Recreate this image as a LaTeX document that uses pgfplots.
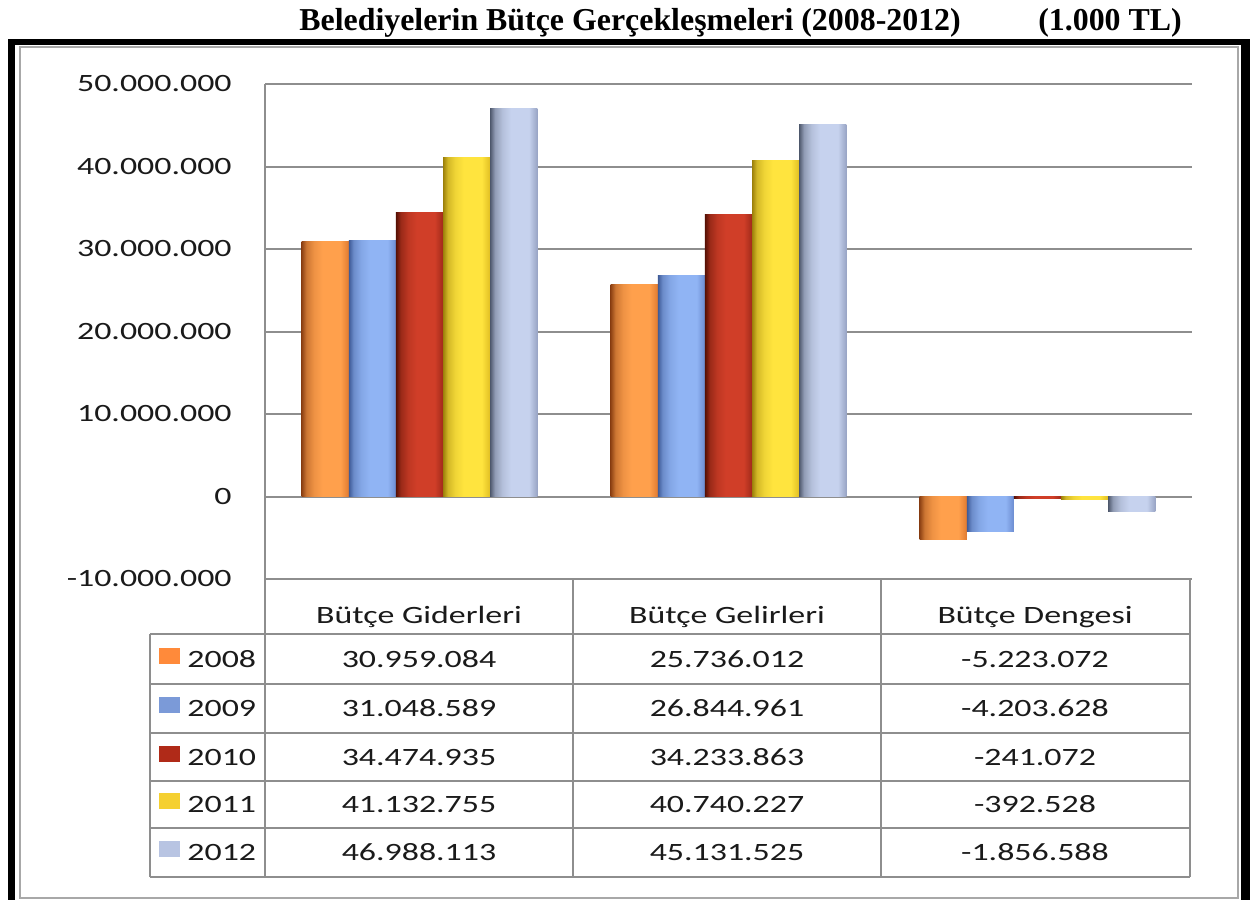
\documentclass[border=0pt]{standalone}
\usepackage{pgfplots}
\pgfplotsset{compat=1.18}
\usepackage{fontspec}
\setmainfont{Liberation Serif}
\newfontfamily\calfont[FakeStretch=1.36]{Carlito}
\definecolor{gridc}{HTML}{8E8E8E}
\definecolor{framec}{HTML}{A8A8A8}
\definecolor{labc}{HTML}{1A1A1A}
% bar shading colours
\definecolor{aL}{HTML}{8E4214}\definecolor{aM}{HTML}{FFA04C}\definecolor{aR}{HTML}{E07A30}
\definecolor{bL}{HTML}{3E5A96}\definecolor{bM}{HTML}{90B4F4}\definecolor{bR}{HTML}{6C8CD0}
\definecolor{cL}{HTML}{561004}\definecolor{cM}{HTML}{D03E28}\definecolor{cR}{HTML}{A02A1A}
\definecolor{dL}{HTML}{9C800A}\definecolor{dM}{HTML}{FFE43E}\definecolor{dR}{HTML}{E0BE22}
\definecolor{eL}{HTML}{505A6E}\definecolor{eM}{HTML}{C6D2EE}\definecolor{eR}{HTML}{98A4C4}
\colorlet{aA}{aL!45!aM}\colorlet{aB}{aL!15!aM}
\colorlet{bA}{bL!45!bM}\colorlet{bB}{bL!15!bM}
\colorlet{cA}{cL!45!cM}\colorlet{cB}{cL!15!cM}
\colorlet{dA}{dL!45!dM}\colorlet{dB}{dL!15!dM}
\colorlet{eA}{eL!45!eM}\colorlet{eB}{eL!15!eM}
\pgfdeclarehorizontalshading{sh08}{100bp}{color(0bp)=(aL); color(25bp)=(aL); color(30bp)=(aA); color(38bp)=(aB); color(47bp)=(aM); color(66bp)=(aM); color(75bp)=(aR); color(100bp)=(aR)}
\pgfdeclarehorizontalshading{sh09}{100bp}{color(0bp)=(bL); color(25bp)=(bL); color(30bp)=(bA); color(38bp)=(bB); color(47bp)=(bM); color(66bp)=(bM); color(75bp)=(bR); color(100bp)=(bR)}
\pgfdeclarehorizontalshading{sh10}{100bp}{color(0bp)=(cL); color(25bp)=(cL); color(30bp)=(cA); color(38bp)=(cB); color(47bp)=(cM); color(66bp)=(cM); color(75bp)=(cR); color(100bp)=(cR)}
\pgfdeclarehorizontalshading{sh11}{100bp}{color(0bp)=(dL); color(25bp)=(dL); color(30bp)=(dA); color(38bp)=(dB); color(47bp)=(dM); color(66bp)=(dM); color(75bp)=(dR); color(100bp)=(dR)}
\pgfdeclarehorizontalshading{sh12}{100bp}{color(0bp)=(eL); color(25bp)=(eL); color(30bp)=(eA); color(38bp)=(eB); color(47bp)=(eM); color(66bp)=(eM); color(75bp)=(eR); color(100bp)=(eR)}
% legend key colours
\definecolor{ka}{HTML}{FF8A3A}\definecolor{kb}{HTML}{7B9AD8}\definecolor{kc}{HTML}{B02A18}
\definecolor{kd}{HTML}{F5D030}\definecolor{ke}{HTML}{B8C4E2}
\newcommand{\lab}{\calfont\fontsize{12.5}{14}\selectfont\color{labc}}
\pgfplotsset{
  y08/.style={ybar, bar width=0.1525, bar shift=-0.305, draw=none, shading=sh08},
  y09/.style={ybar, bar width=0.1525, bar shift=-0.1525, draw=none, shading=sh09},
  y10/.style={ybar, bar width=0.1525, bar shift=0, draw=none, shading=sh10},
  y11/.style={ybar, bar width=0.1525, bar shift=0.1525, draw=none, shading=sh11},
  y12/.style={ybar, bar width=0.1525, bar shift=0.305, draw=none, shading=sh12},
}
\begin{document}
\begin{tikzpicture}[x=0.5bp,y=-0.5bp]
\useasboundingbox (0,0) rectangle (1253,900);
% outer black frame
\fill[black] (8,39) rectangle (1250,900);
\fill[white] (15,45) rectangle (1241,900);
\draw[framec, line width=1bp] (20,47) rectangle (1238,898);
% title
\node[anchor=base, inner sep=0pt, font=\bfseries\fontsize{16}{18}\selectfont] at (630,30) {Belediyelerin Bütçe Gerçekleşmeleri (2008-2012)};
\node[anchor=base, inner sep=0pt, font=\bfseries\fontsize{16}{18}\selectfont] at (1110,30) {(1.000 TL)};
\coordinate (axpos) at (265,579);

\begin{axis}[
  at={(axpos)}, anchor=south west,
  scale only axis, width=463.5bp, height=247.5bp,
  xmin=-0.5, xmax=2.5,
  ymin=-10000000, ymax=50000000,
  axis x line=none, axis y line*=left,
  axis line style={gridc, line width=1bp},
  ytick={-10000000,0,10000000,20000000,30000000,40000000,50000000},
  yticklabels={-10.000.000,0,10.000.000,20.000.000,30.000.000,40.000.000,50.000.000},
  scaled y ticks=false,
  ymajorgrids, grid style={gridc, line width=1bp},
  major tick length=0pt,
  yticklabel style={font=\lab, anchor=east, inner sep=0pt, xshift=-16.5bp},
  clip=false,
]
% 2008 (one plot per bar so that each bar gets its own shading)
\addplot[y08] coordinates {(0,30959084)};
\addplot[y08] coordinates {(1,25736012)};
\addplot[y08] coordinates {(2,-5223072)};
% 2009
\addplot[y09] coordinates {(0,31048589)};
\addplot[y09] coordinates {(1,26844961)};
\addplot[y09] coordinates {(2,-4203628)};
% 2010
\addplot[y10] coordinates {(0,34474935)};
\addplot[y10] coordinates {(1,34233863)};
\addplot[y10] coordinates {(2,-241072)};
% 2011
\addplot[y11] coordinates {(0,41132755)};
\addplot[y11] coordinates {(1,40740227)};
\addplot[y11] coordinates {(2,-392528)};
% 2012
\addplot[y12] coordinates {(0,46988113)};
\addplot[y12] coordinates {(1,45131525)};
\addplot[y12] coordinates {(2,-1856588)};
\end{axis}

% data table
\begin{scope}[gridc, line width=1bp]
\draw (265,579) -- (1190,579);
\foreach \yy in {634,684,733,781,828,877} \draw (150,\yy) -- (1190,\yy);
\draw (265,579) -- (265,877);
\draw (573,579) -- (573,877);
\draw (881,579) -- (881,877);
\draw (1190,579) -- (1190,877);
\draw (150,634) -- (150,877);
\end{scope}
\node[anchor=base, inner sep=0pt, font=\lab] at (419,623) {Bütçe Giderleri};
\node[anchor=base, inner sep=0pt, font=\lab] at (727,623) {Bütçe Gelirleri};
\node[anchor=base, inner sep=0pt, font=\lab] at (1035,623) {Bütçe Dengesi};
% rows
\foreach \yr/\kc/\c/\a/\b/\d in {
  2008/ka/659/30.959.084/25.736.012/-5.223.072,
  2009/kb/708.5/31.048.589/26.844.961/-4.203.628,
  2010/kc/757/34.474.935/34.233.863/-241.072,
  2011/kd/804.5/41.132.755/40.740.227/-392.528,
  2012/ke/852.5/46.988.113/45.131.525/-1.856.588}{
  \fill[\kc] (159,\c-11.5) rectangle (180,\c+4.5);
  \node[anchor=base west, inner sep=0pt, font=\lab] at (187,\c+8) {\yr};
  \node[anchor=base, inner sep=0pt, font=\lab] at (419,\c+8) {\a};
  \node[anchor=base, inner sep=0pt, font=\lab] at (727,\c+8) {\b};
  \node[anchor=base, inner sep=0pt, font=\lab] at (1035,\c+8) {\d};
}
\end{tikzpicture}
\end{document}
